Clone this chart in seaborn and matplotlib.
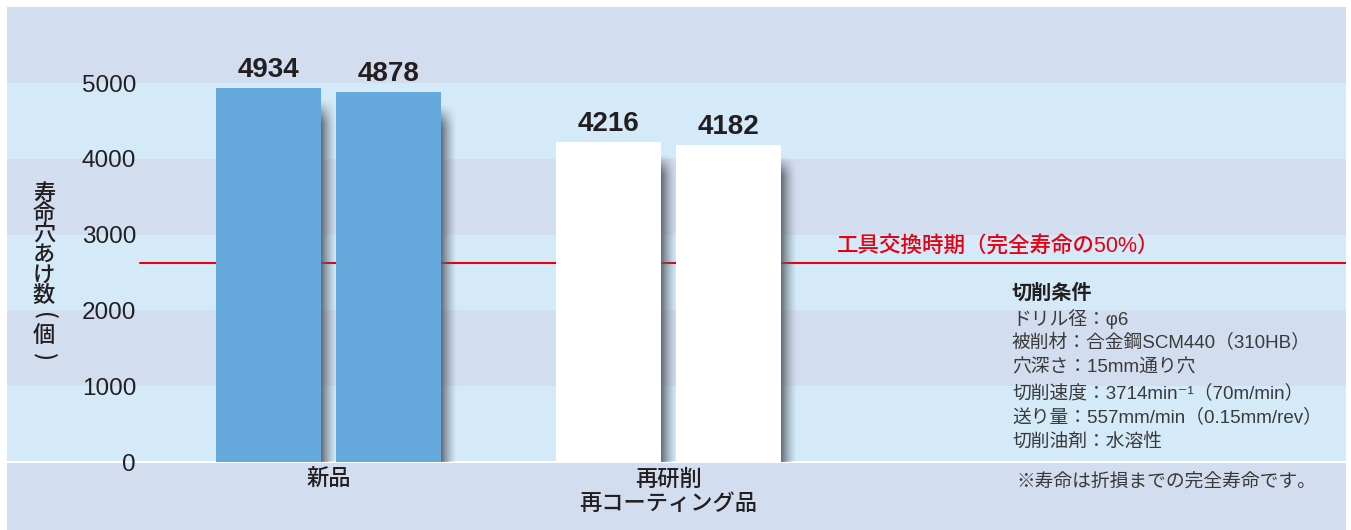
import numpy as np
import pandas as pd
import seaborn as sns
import matplotlib.pyplot as plt

# data
categories = ["新品", "再研削\n再コーティング品"]
samples = ["1本目", "2本目"]
life_holes = [4934, 4878, 4216, 4182]
threshold = 2620
threshold_label = "工具交換時期（完全寿命の50%）"
yticks = [0, 1000, 2000, 3000, 4000, 5000]
ylabel_chars = "寿命穴あけ数(個)"
cond_title = "切削条件"
cond_lines = [
    "ドリル径：φ6",
    "被削材：合金鋼SCM440（310HB）",
    "穴深さ：15mm通り穴",
    "切削速度：3714min⁻¹（70m/min）",
    "送り量：557mm/min（0.15mm/rev）",
    "切削油剤：水溶性",
]
note = "※寿命は折損までの完全寿命です。"

bar_colors = ["#66a9dc", "#ffffff"]
lavender = "#d3ddf0"
lightblue = "#d4eaf8"
red = "#e60012"
dark = "#231f20"

df = pd.DataFrame({
    "category": np.repeat(categories, len(samples)),
    "sample": samples * len(categories),
    "holes": life_holes,
})

sns.set_theme(style="white")
plt.rcParams["font.family"] = ["Liberation Sans", "Noto Sans CJK JP", "DejaVu Sans"]

W, H = 1351, 530
fig = plt.figure(figsize=(W / 100, H / 100), dpi=100)
fig.patch.set_facecolor("white")
ax = fig.add_axes([7 / W, 0, 1339 / W, 523 / H])
ax.set_facecolor(lavender)

# background bands
for lo in (0, 2000, 4000):
    ax.axhspan(lo, lo + 1000, color=lightblue, lw=0, zorder=0)
ax.axhline(0, color="white", lw=1.5, zorder=0.5)

sns.barplot(data=df, x="category", y="holes", hue="sample", order=categories,
            width=0.706, gap=0.125, saturation=1, legend=False, ax=ax,
            linewidth=0, edgecolor="none", zorder=3)

xlim = (-0.9456, 2.9926)
ylim = (-897, 6003)

# threshold line
ax.plot([-0.554, xlim[1]], [threshold, threshold], color=red, lw=1.5, zorder=2)

# recolor bars by category, add drop shadows and value labels
shade = np.zeros((60, 40, 4))
t = np.linspace(0, 1, 40)
v = np.linspace(0, 1, 60)
shade[..., 0] = 0.33
shade[..., 1] = 0.37
shade[..., 2] = 0.41
shade[..., 3] = 0.9 * (1 - t[None, :]) ** 1.4 * np.clip(v[:, None] / 0.06, 0, 1)
for cont in ax.containers:
    for bar in cont:
        cx = bar.get_x() + bar.get_width() / 2
        bar.set_facecolor(bar_colors[int(round(cx))])
        x1 = bar.get_x() + bar.get_width()
        h = bar.get_height()
        ax.imshow(shade, extent=[x1, x1 + 0.046, 0, h - 130], aspect="auto",
                  interpolation="bilinear", zorder=2.5, origin="upper")
        ax.text(cx, h + 150, f"{int(h)}", ha="center", va="baseline",
                fontsize=20, fontweight="bold", color=dark,
                family=["Liberation Sans Narrow", "Liberation Sans"])

ax.set_xlim(*xlim)
ax.set_ylim(*ylim)
ax.set_yticks(yticks)
ax.set_yticklabels([str(y) for y in yticks])
ax.tick_params(axis="y", length=0, pad=-129 * 0.72, labelsize=17.5, labelcolor=dark)
ax.tick_params(axis="x", length=0, pad=-60 * 0.72, labelsize=16, labelcolor=dark)
for lab in ax.get_xticklabels():
    lab.set_fontweight("medium")
ax.set_xlabel("")
ax.set_ylabel("")
for s in ax.spines.values():
    s.set_visible(False)

# stacked vertical y label (parentheses turned for vertical writing)
for i, ch in enumerate(ylabel_chars):
    rot = -90 if ch in "()" else 0
    fig.text(44 / W, 1 - (193 + 20.5 * i) / H, ch, ha="center", va="center",
             fontsize=16, color=dark, rotation=rot, fontweight="medium",
             family=["Noto Sans CJK JP"])

fig.text(837 / W, 1 - 247 / H, threshold_label, ha="left", va="center",
         fontsize=15.5, color=red, fontweight="medium")

fig.text(1012 / W, 1 - 293 / H, cond_title, ha="left", va="center",
         fontsize=14.5, fontweight="bold", color=dark)
for i, line in enumerate(cond_lines):
    fig.text(1012 / W, 1 - (319 + 24.6 * i) / H, line, ha="left", va="center",
             fontsize=13.5, color="#3a3a3a")
fig.text(1016 / W, 1 - 482 / H, note, ha="left", va="center",
         fontsize=13.5, color="#3a3a3a")

plt.savefig("out.png", dpi=100)
